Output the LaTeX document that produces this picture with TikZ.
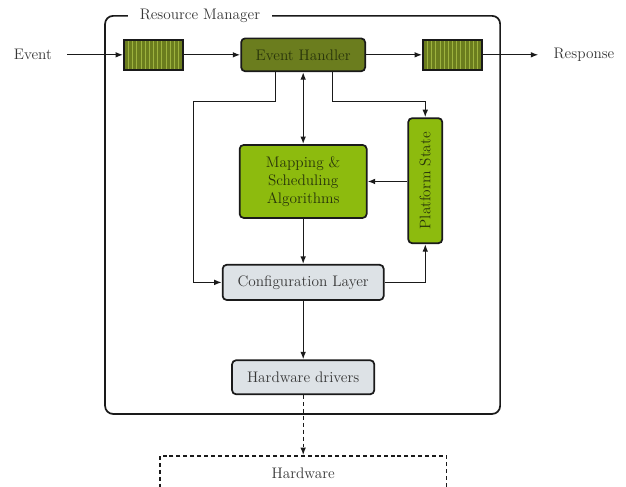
\documentclass[tikz,border=0pt]{standalone}
\usetikzlibrary{arrows.meta}

\definecolor{olivedark}{HTML}{6B7D1E}
\definecolor{limegreen}{HTML}{8DBB0E}
\definecolor{stripegreen}{HTML}{9DB23E}
\definecolor{greentext}{HTML}{28340A}
\definecolor{boxgray}{HTML}{DDE2E6}
\definecolor{textgray}{HTML}{363636}
\definecolor{linedark}{HTML}{1A1A1A}

\tikzset{
	txt/.style={text=textgray, font=\fontsize{11.5}{13.8}\selectfont},
	block/.style={txt, draw=linedark, line width=1.3pt, rounded corners=3pt},
	handler/.style={block, fill=olivedark, text=greentext, minimum width=3.28cm, minimum height=0.87cm},
	algo/.style={block, fill=limegreen, text=greentext, align=center},
	layer/.style={block, fill=boxgray},
	queue/.style={draw=linedark, line width=1.3pt, fill=olivedark, minimum width=1.56cm, minimum height=0.79cm,
		path picture={
			\foreach \s in {-0.66,-0.55,...,0.70}
				\draw[stripegreen, line width=0.6pt] ([xshift=\s cm]path picture bounding box.south) -- ([xshift=\s cm]path picture bounding box.north);
		}},
	arr/.style={draw=linedark, line width=1pt, -{Latex[length=2mm,width=1.5mm]}}
}

\begin{document}
\begin{tikzpicture}

\useasboundingbox (0,0) rectangle (16.56,-12.86);

% Marco del gestor
\draw[draw=linedark, line width=1.3pt, rounded corners=6pt] (2.78,-0.42) rectangle (13.23,-10.95);
\node[txt, fill=white, inner xsep=9pt, inner ysep=1pt] (rm) at (5.29,-0.42) {Resource Manager};

% Entrada y salida
\node[txt] (ev) at (0.87,-1.45) {Event};
\node[queue] (q1) at (4.06,-1.45) {};
\node[handler] (eh) at (8.02,-1.45) {Event Handler};
\node[queue] (q2) at (11.97,-1.45) {};
\node[txt] (resp) at (15.45,-1.45) {Response};

% Bloques internos
\node[algo, minimum width=3.36cm, minimum height=1.93cm] (map) at (8.02,-4.80) {Mapping \&\\Scheduling\\Algorithms};
\node[algo, rotate=90, minimum width=3.31cm, minimum height=0.90cm] (ps) at (11.25,-4.78) {Platform State};
\node[layer, minimum width=4.26cm, minimum height=0.93cm] (conf) at (8.02,-7.47) {Configuration Layer};
\node[layer, minimum width=3.76cm, minimum height=0.90cm] (hd) at (8.02,-9.98) {Hardware drivers};
\node[txt, draw=linedark, line width=1.3pt, dash pattern=on 3pt off 2.2pt, anchor=north,
	minimum width=7.59cm, minimum height=0.9cm] (hw) at (8.02,-12.04) {Hardware};

% Conexiones
\draw[arr, shorten <=8pt] (ev) -- (q1);
\draw[arr] (q1) -- (eh);
\draw[arr] (eh) -- (q2);
\draw[arr, shorten >=8pt] (q2) -- (resp);

\draw[arr] ([xshift=-0.74cm]eh.south) -- ++(0,-0.77) -- ++(-2.17,0) |- (conf.west);
\draw[arr] ([xshift=0.77cm]eh.south) -- ++(0,-0.77) -| (ps.east);
\draw[arr, {Latex[length=2mm,width=1.5mm]}-{Latex[length=2mm,width=1.5mm]}] (eh) -- (map);
\draw[arr] (ps.north |- map.east) -- (map.east);
\draw[arr] (map) -- (conf);
\draw[arr] (conf.east) -| (ps.west);
\draw[arr] (conf) -- (hd);
\draw[arr, dash pattern=on 3pt off 2.2pt] (hd) -- (hw);

\end{tikzpicture}
\end{document}
